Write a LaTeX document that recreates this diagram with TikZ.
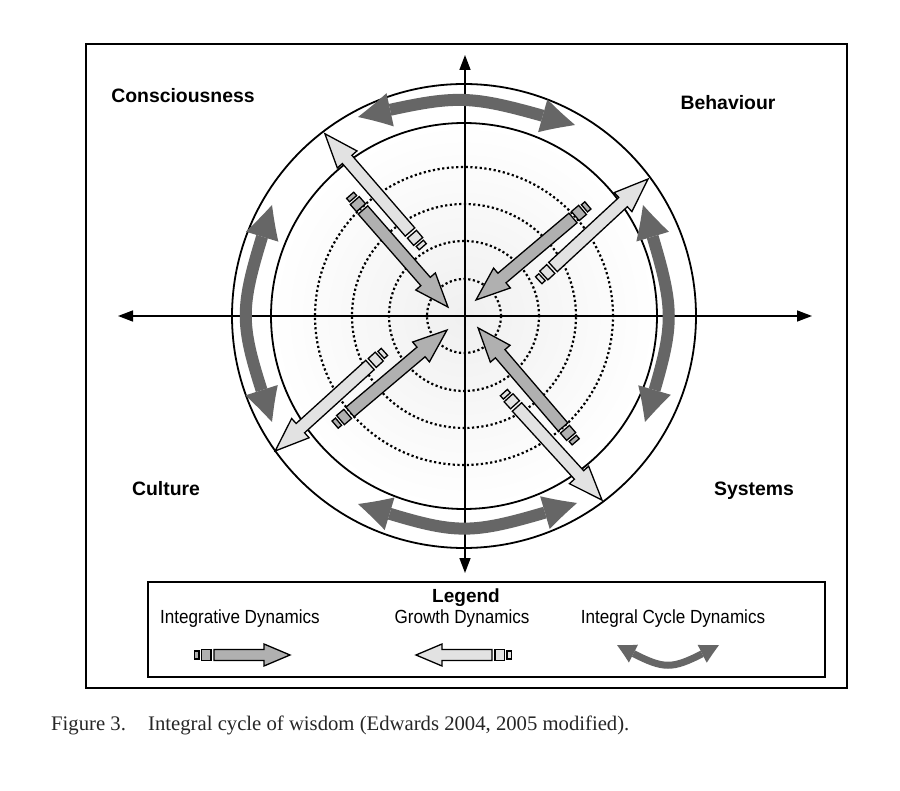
\documentclass[tikz,border=0pt]{standalone}
\usepackage{fontspec}
\setmainfont{Liberation Serif}
\setsansfont{Liberation Sans}
\newfontfamily\narrowsf[FakeStretch=0.9]{Liberation Sans}
\usetikzlibrary{arrows.meta,bending}
\definecolor{lightfill}{HTML}{E2E2E2}
\definecolor{darkfill}{HTML}{B0B0B0}
\definecolor{cyclegray}{HTML}{666666}
\definecolor{captgray}{HTML}{262626}
\tikzset{
  arrline/.style={draw=black, line width=1.3pt, line join=miter},
  axisline/.style={draw=black, line width=1.5pt,
     {Triangle[length=15pt,width=11pt]}-{Triangle[length=15pt,width=11pt]}},
  cycarrow/.style={draw=cyclegray, line width=12pt,
     {Triangle[length=36pt,width=34pt,line width=0pt,bend]}-{Triangle[length=36pt,width=34pt,line width=0pt,bend]}},
  legcyc/.style={draw=cyclegray, line width=7pt,
     {Triangle[length=20pt,width=20pt,line width=0pt,bend]}-{Triangle[length=20pt,width=20pt,line width=0pt,bend]}},
  dotcirc/.style={draw=black, line width=2.2pt, dash pattern=on 2.2pt off 2.5pt},
  solidcirc/.style={draw=black, line width=1.8pt},
  quadlabel/.style={font=\sffamily\bfseries\fontsize{19.4}{22}\selectfont, inner sep=0pt, anchor=base},
  legtitle/.style={font=\sffamily\bfseries\fontsize{19}{22}\selectfont, inner sep=0pt, anchor=base},
  legtext/.style={font=\narrowsf\fontsize{19}{22}\selectfont, inner sep=0pt, anchor=base},
  captext/.style={font=\fontsize{20.7}{24}\selectfont, text=captgray, inner sep=0pt, anchor=base west}
}
% #1 x, #2 y (tail), #3 angle, #4 length, #5 fill, #6 head length, #7 head half width, #8 shaft half width
\newcommand\fatarr[8]{%
  \begin{scope}[shift={(#1,#2)},rotate=#3]
    \draw[arrline,fill=#5] (0,-#8) -- ({#4-#6},-#8) -- ({#4-#6},-#7) -- (#4,0)
        -- ({#4-#6},#7) -- ({#4-#6},#8) -- (0,#8) -- cycle;
    \draw[arrline,fill=#5] (-3,{-0.95*#8}) rectangle (-12.5,{0.95*#8});
    \draw[arrline,fill=#5] (-15,{-0.75*#8}) rectangle (-19.5,{0.75*#8});
  \end{scope}}
\begin{document}
\begin{tikzpicture}[x=1pt,y=-1pt]
\useasboundingbox (0,0) rectangle (900,791);
\fill[white] (0,0) rectangle (900,791);
% frame
\draw[line width=2.5pt] (86,44) rectangle (847,688);
% circles
\coordinate (C) at (464,316);
\shade[inner color=black!6, outer color=white] (C) circle (193pt);
\foreach \r in {37,75,112,149} { \draw[dotcirc] (C) circle (\r pt); }
\draw[solidcirc] (C) circle (193pt);
\draw[solidcirc] (C) circle (232pt);
% axes
\coordinate (axL) at (118,316);
\coordinate (axR) at (812,316);
\coordinate (axT) at (465,55);
\coordinate (axB) at (465,573);
\draw[axisline] (axL) -- (axR);
\draw[axisline] (axT) -- (axB);
% integral cycle arrows
\coordinate (tA) at (358,117); \coordinate (tB) at (575,125);
\coordinate (rA) at (643,205); \coordinate (rB) at (645,422);
\coordinate (lA) at (272,205); \coordinate (lB) at (272,422);
\coordinate (bA) at (358,504); \coordinate (bB) at (577,503);
\draw[cycarrow] (tA) .. controls (464,93) .. (tB);
\draw[cycarrow] (rA) .. controls (677,316) .. (rB);
\draw[cycarrow] (lA) .. controls (237,316) .. (lB);
\draw[cycarrow] (bA) .. controls (464,537) .. (bB);
% diagonal arrows
\fatarr{410}{232}{130.9}{130}{lightfill}{34}{13}{6.3}
\fatarr{363}{210}{-48.8}{129}{darkfill}{34}{13}{6.3}
\fatarr{553}{267}{42.8}{129.5}{lightfill}{34}{13}{6.3}
\fatarr{573}{218}{220.2}{127}{darkfill}{34}{13}{6.3}
\fatarr{370}{365}{222.2}{128}{lightfill}{34}{13}{6.3}
\fatarr{350}{412}{40.2}{127}{darkfill}{34}{13}{6.3}
\fatarr{563}{427}{130.6}{130.5}{darkfill}{34}{13}{6.3}
\fatarr{517}{407}{-47.6}{126}{lightfill}{34}{13}{6.3}
% quadrant labels
\node[quadlabel] (cons) at (183,103) {Consciousness};
\node[quadlabel] (beh) at (728,110) {Behaviour};
\node[quadlabel] (cult) at (166,495) {Culture};
\node[quadlabel] (sys) at (754,495) {Systems};
% legend
\draw[line width=1.5pt] (148,582) rectangle (825,677);
\node[legtitle] (leg) at (466,602) {Legend};
\node[legtext] (integ) at (240,623) {Integrative Dynamics};
\node[legtext] (growth) at (462,623) {Growth Dynamics};
\node[legtext] (cyc) at (673,623) {Integral Cycle Dynamics};
\fatarr{214}{655}{0}{76}{darkfill}{26}{11}{5.5}
\fatarr{492}{655}{180}{76}{lightfill}{26}{11}{5.5}
\coordinate (cA) at (617,645); \coordinate (cB) at (719,645);
\draw[legcyc] (cA) .. controls (668,672) .. (cB);
% caption
\node[captext] (fig) at (51,730) {Figure 3.};
\node[captext] (capt) at (148,730) {Integral cycle of wisdom (Edwards 2004, 2005 modified).};
\end{tikzpicture}
\end{document}
